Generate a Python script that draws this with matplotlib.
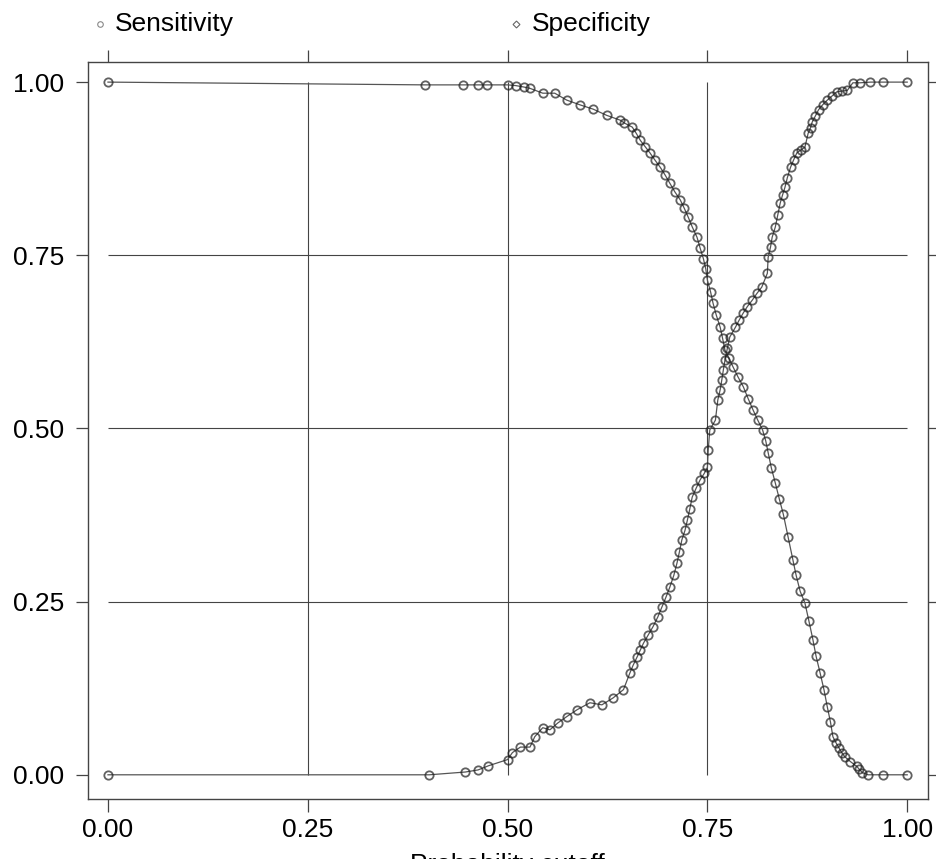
"""Sensitivity / specificity versus probability cutoff (lattice-style panel)."""
import matplotlib
matplotlib.use("Agg")
import matplotlib.pyplot as plt
from matplotlib.lines import Line2D

plt.rcParams["font.family"] = ["Liberation Sans", "DejaVu Sans"]

# ── Data ─────────────────────────────────────────────────────────────────────
SENS_X = [0.000, 0.397, 0.444, 0.463, 0.474, 0.500, 0.510, 0.520, 0.528, 0.544,
          0.559, 0.574, 0.591, 0.607, 0.624, 0.641, 0.646, 0.656, 0.661, 0.666,
          0.672, 0.678, 0.684, 0.691, 0.697, 0.703, 0.709, 0.716, 0.721, 0.726,
          0.731, 0.737, 0.741, 0.745, 0.748, 0.750, 0.754, 0.757, 0.761, 0.766,
          0.769, 0.772, 0.777, 0.782, 0.788, 0.795, 0.801, 0.807, 0.813, 0.819,
          0.823, 0.826, 0.830, 0.835, 0.840, 0.845, 0.851, 0.857, 0.861, 0.866,
          0.872, 0.877, 0.882, 0.886, 0.891, 0.896, 0.900, 0.904, 0.907, 0.911,
          0.915, 0.918, 0.922, 0.929, 0.937, 0.940, 0.944, 0.951, 0.970, 1.000]
SENS_Y = [1.000, 0.996, 0.996, 0.996, 0.996, 0.996, 0.995, 0.993, 0.991, 0.984,
          0.984, 0.974, 0.967, 0.961, 0.952, 0.945, 0.941, 0.935, 0.926, 0.916,
          0.907, 0.898, 0.888, 0.877, 0.866, 0.854, 0.842, 0.830, 0.818, 0.805,
          0.791, 0.776, 0.760, 0.745, 0.730, 0.714, 0.697, 0.681, 0.664, 0.646,
          0.630, 0.613, 0.601, 0.589, 0.575, 0.560, 0.543, 0.527, 0.512, 0.498,
          0.482, 0.465, 0.443, 0.421, 0.398, 0.376, 0.343, 0.310, 0.288, 0.265,
          0.248, 0.222, 0.195, 0.171, 0.147, 0.122, 0.098, 0.076, 0.055, 0.046,
          0.038, 0.032, 0.026, 0.019, 0.012, 0.008, 0.003, 0.000, 0.000, 0.000]

SPEC_X = [0.000, 0.402, 0.447, 0.463, 0.476, 0.500, 0.506, 0.516, 0.528, 0.534,
          0.544, 0.553, 0.563, 0.574, 0.587, 0.603, 0.618, 0.632, 0.645, 0.653,
          0.657, 0.662, 0.666, 0.670, 0.676, 0.682, 0.688, 0.693, 0.698, 0.703,
          0.708, 0.712, 0.715, 0.718, 0.722, 0.725, 0.728, 0.731, 0.736, 0.741,
          0.746, 0.750, 0.751, 0.753, 0.760, 0.763, 0.766, 0.768, 0.770, 0.772,
          0.775, 0.778, 0.785, 0.790, 0.795, 0.800, 0.806, 0.812, 0.818, 0.825,
          0.826, 0.829, 0.831, 0.835, 0.838, 0.841, 0.844, 0.847, 0.850, 0.854,
          0.858, 0.862, 0.867, 0.872, 0.876, 0.879, 0.881, 0.885, 0.889, 0.894,
          0.900, 0.906, 0.912, 0.918, 0.925, 0.932, 0.941, 0.954, 0.970, 1.000]
SPEC_Y = [0.000, 0.000, 0.004, 0.007, 0.013, 0.022, 0.032, 0.040, 0.040, 0.055,
          0.068, 0.065, 0.075, 0.084, 0.094, 0.104, 0.101, 0.111, 0.123, 0.147,
          0.158, 0.170, 0.180, 0.190, 0.202, 0.214, 0.228, 0.242, 0.256, 0.271,
          0.288, 0.306, 0.322, 0.339, 0.353, 0.368, 0.384, 0.401, 0.414, 0.426,
          0.435, 0.444, 0.469, 0.498, 0.512, 0.541, 0.556, 0.570, 0.585, 0.599,
          0.616, 0.632, 0.646, 0.657, 0.667, 0.676, 0.685, 0.695, 0.704, 0.724,
          0.747, 0.762, 0.776, 0.791, 0.808, 0.825, 0.837, 0.848, 0.862, 0.877,
          0.888, 0.898, 0.902, 0.906, 0.926, 0.934, 0.942, 0.951, 0.960, 0.967,
          0.974, 0.980, 0.986, 0.987, 0.988, 0.999, 0.999, 1.000, 1.000, 1.000]

TICKS = [0.00, 0.25, 0.50, 0.75, 1.00]
TICK_LABELS = ["0.00", "0.25", "0.50", "0.75", "1.00"]
GRID = [0.25, 0.50, 0.75]

INK = "#1e1e1e"

# ── Plot ─────────────────────────────────────────────────────────────────────
fig = plt.figure(figsize=(9.37, 8.59), dpi=100)
ax = fig.add_axes([0.0939, 0.0698, 0.8965, 0.858])

# reference lines only span the data range, lattice style
ax.hlines(GRID, 0, 1, color="#444444", linewidth=0.8, zorder=1)
ax.vlines(GRID, 0, 1, color="#444444", linewidth=0.8, zorder=1)

for xs, ys in [(SENS_X, SENS_Y), (SPEC_X, SPEC_Y)]:
    ax.plot(xs, ys, color="#555555", linewidth=0.9, zorder=2)
    ax.plot(xs, ys, linestyle="none", marker="o", markersize=6,
            markerfacecolor="none", markeredgecolor=INK, markeredgewidth=1.3,
            alpha=0.7, zorder=3)

ax.set_xlim(-0.025, 1.026)
ax.set_ylim(-0.035, 1.029)
ax.set_xticks(TICKS)
ax.set_xticklabels(TICK_LABELS)
ax.set_yticks(TICKS)
ax.set_yticklabels(TICK_LABELS)
ax.tick_params(axis="both", direction="out", length=9, width=0.9, color="#444444",
               labelsize=19, top=True, right=True, labeltop=False, labelright=False)
ax.tick_params(axis="y", pad=8)
ax.tick_params(axis="x", pad=5)
for sp in ax.spines.values():
    sp.set_color("#444444")
    sp.set_linewidth(1.0)

# x label sits partly below the canvas edge, as in the reference
fig.text(0.542, 0.007, "Probability cutoff", fontsize=19, ha="center", va="top")

# key above the panel
fig.add_artist(Line2D([0.107], [0.972], marker="o", markersize=4,
                      markerfacecolor="none", markeredgecolor="#888888",
                      markeredgewidth=0.8, linestyle="none",
                      transform=fig.transFigure))
fig.text(0.123, 0.972, "Sensitivity", fontsize=19, ha="left", va="center")
fig.add_artist(Line2D([0.551], [0.972], marker="D", markersize=3.5,
                      markerfacecolor="none", markeredgecolor="#666666",
                      markeredgewidth=0.8, linestyle="none",
                      transform=fig.transFigure))
fig.text(0.568, 0.972, "Specificity", fontsize=19, ha="left", va="center")

fig.savefig("out.png", dpi=100)
